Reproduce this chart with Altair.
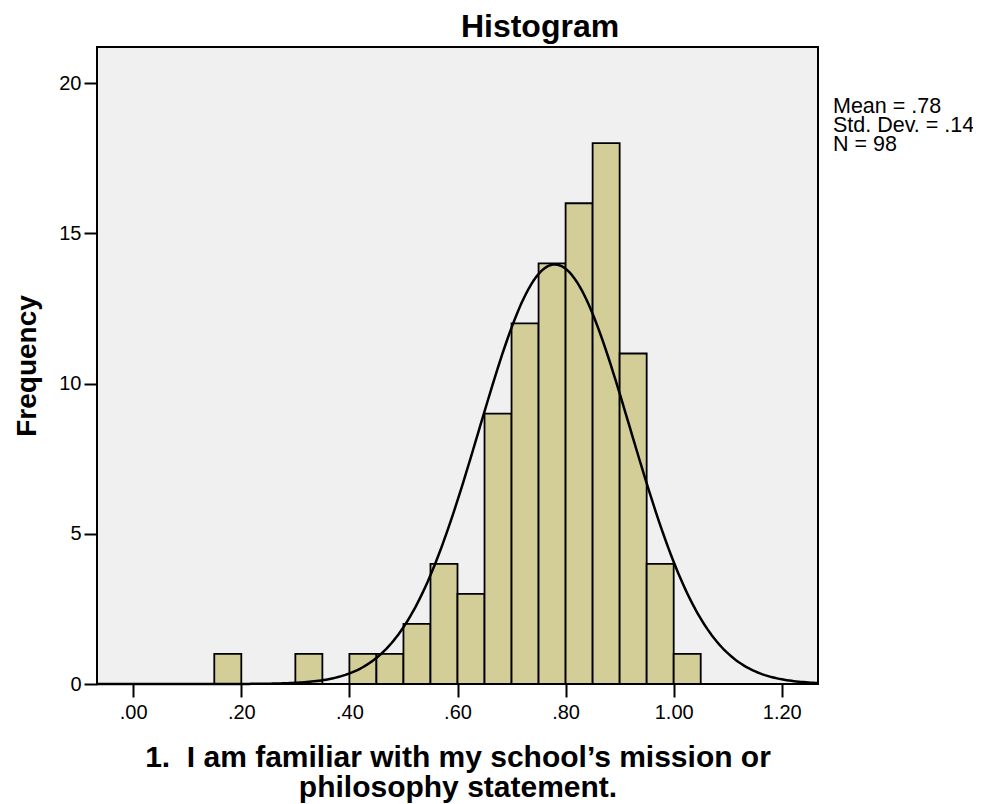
import altair as alt
import numpy as np
import pandas as pd

# ---- data ----
bin_starts = [0.15, 0.30, 0.40, 0.45, 0.50, 0.55, 0.60, 0.65, 0.70, 0.75, 0.80, 0.85, 0.90, 0.95, 1.00]
counts     = [1,    1,    1,    1,    2,    4,    3,    9,    12,   14,   16,   18,   11,   4,    1]
bin_width = 0.05
mean_val = 0.78
sd_val = 0.14
n_val = 98
x_ticks = [0.0, 0.2, 0.4, 0.6, 0.8, 1.0, 1.2]
y_ticks = [0, 5, 10, 15, 20]
x_domain = [-0.067, 1.267]
y_domain = [0, 21.2]
chart_title = "Histogram"
x_title = ["1.\u00a0 I am familiar with my school\u2019s mission or", "philosophy statement."]
y_title = "Frequency"

FONT = "Liberation Sans, Arial, Helvetica, sans-serif"

bars_df = pd.DataFrame({
    "start": bin_starts,
    "end": [s + bin_width for s in bin_starts],
    "count": counts,
    "zero": [0] * len(counts),
})

# fitted normal curve from the displayed statistics
xs = np.linspace(x_domain[0], x_domain[1], 300)
ys = n_val * bin_width / (sd_val * np.sqrt(2 * np.pi)) * np.exp(-0.5 * ((xs - mean_val) / sd_val) ** 2)
curve_df = pd.DataFrame({"x": xs, "y": ys})

def fmt(v):
    s = f"{v:.2f}"
    return s[1:] if s.startswith("0") else s

stats_df = pd.DataFrame({"label": [f"Mean = {fmt(mean_val)}\nStd. Dev. = {fmt(sd_val)}\nN = {n_val}"]})
title_df = pd.DataFrame({"label": [chart_title]})

x_scale = alt.Scale(domain=x_domain, nice=False, zero=False)
y_scale = alt.Scale(domain=y_domain, nice=False, zero=True)

x_axis = alt.Axis(
    values=x_ticks,
    labelExpr="datum.value < 1 && datum.value >= 0 ? slice(format(datum.value, '.2f'), 1) : format(datum.value, '.2f')",
    title=x_title,
    titleFontSize=30, titleFontWeight="bold", titleFont=FONT, titleColor="black",
    titleLineHeight=30, titlePadding=20,
    labelFontSize=20, labelFont=FONT, labelColor="black", labelPadding=5,
    tickSize=13, tickWidth=2, tickColor="black",
    domain=False, grid=False,
)
y_axis = alt.Axis(
    values=y_ticks,
    title=y_title,
    titleFontSize=28, titleFontWeight="bold", titleFont=FONT, titleColor="black",
    titlePadding=17,
    labelFontSize=20, labelFont=FONT, labelColor="black", labelPadding=3,
    tickSize=13, tickWidth=2, tickColor="black",
    domain=False, grid=False,
)

bars = alt.Chart(bars_df).mark_rect(
    fill="#d3ce98", stroke="black", strokeWidth=1.8, opacity=1
).encode(
    x=alt.X("start:Q", scale=x_scale, axis=x_axis),
    x2="end:Q",
    y=alt.Y("count:Q", scale=y_scale, axis=y_axis),
    y2="zero:Q",
)

curve = alt.Chart(curve_df).mark_line(color="black", strokeWidth=2.5).encode(
    x=alt.X("x:Q", scale=x_scale),
    y=alt.Y("y:Q", scale=y_scale),
)

stats = alt.Chart(stats_df).mark_text(
    align="left", baseline="alphabetic", fontSize=21.5, font=FONT, color="black",
    lineBreak="\n", lineHeight=19,
).encode(
    x=alt.value(736),
    y=alt.value(66),
    text="label:N",
)

title = alt.Chart(title_df).mark_text(
    align="center", baseline="alphabetic", fontSize=32, fontWeight="bold", font=FONT, color="black",
).encode(
    x=alt.value(443),
    y=alt.value(-10),
    text="label:N",
)

chart = alt.layer(bars, curve, stats, title).properties(
    width=721,
    height=637,
    autosize=alt.AutoSizeParams(type="none"),
    padding={"left": 89, "top": 39, "right": 155, "bottom": 120},
    background="white",
).configure_view(
    fill="#f0f0f0", stroke="black", strokeWidth=2
)

chart.save("out.html", embed_options={"renderer": "svg", "actions": False})
